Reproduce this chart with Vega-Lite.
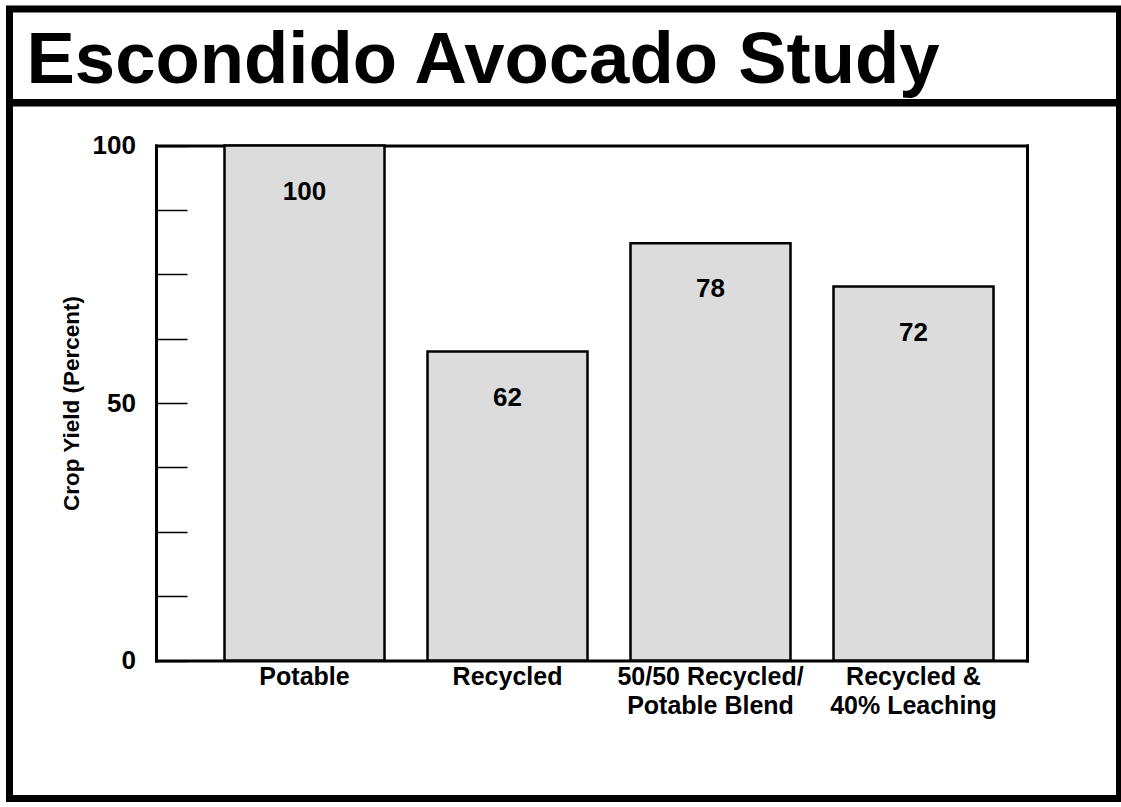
{
  "$schema": "https://vega.github.io/schema/vega-lite/v6.json",
  "padding": {"left": 5.5, "top": 5, "right": 0, "bottom": 0},
  "background": "white",
  "spacing": 0,
  "bounds": "flush",
  "config": {
    "font": "Liberation Sans",
    "view": {"stroke": "black", "strokeWidth": 7},
    "axis": {"grid": false}
  },
  "vconcat": [
    {
      "width": 1110,
      "height": 93.5,
      "data": {"values": [{"title": "Escondido Avocado Study"}]},
      "mark": {"type": "text", "align": "left", "baseline": "middle", "dx": 17, "dy": 5, "font": "Liberation Sans", "fontSize": 72.5, "fontWeight": "bold", "color": "black"},
      "encoding": {
        "text": {"field": "title"},
        "x": {"field": "title", "type": "nominal", "scale": {"type": "point", "padding": 0, "align": 0}, "axis": null}
      }
    },
    {
      "width": 1110,
      "height": 695.5,
      "data": {
        "values": [
          {"treatment": "Potable", "yield": 100, "label": "100"},
          {"treatment": "Recycled", "yield": 60, "label": "62"},
          {"treatment": "50/50 Recycled/\nPotable Blend", "yield": 81, "label": "78"},
          {"treatment": "Recycled &\n40% Leaching", "yield": 72.6, "label": "72"}
        ]
      },
      "layer": [
        {
          "mark": {"type": "bar", "fill": "#dcdcdc", "stroke": "black", "strokeWidth": 2.5},
          "encoding": {
            "x": {
              "field": "treatment",
              "type": "nominal",
              "sort": null,
              "scale": {"type": "band", "range": [146.5, 1017.5], "paddingInner": 0.2118, "paddingOuter": 0.2512, "align": 0.6716},
              "axis": {
                "orient": "bottom",
                "offset": -138,
                "ticks": false,
                "domainColor": "black",
                "domainWidth": 3,
                "domainCap": "square",
                "labelAngle": 0,
                "labelFont": "Liberation Sans",
                "labelFontSize": 25,
                "labelFontWeight": "bold",
                "labelColor": "black",
                "labelPadding": 4,
                "labelLineHeight": 29,
                "labelLimit": 400,
                "labelExpr": "split(datum.label, '\\n')",
                "title": null
              }
            },
            "y": {
              "field": "yield",
              "type": "quantitative",
              "scale": {"domain": [0, 100], "range": [557.5, 42.5], "nice": false},
              "axis": {
                "orient": "left",
                "offset": -146.5,
                "values": [0, 12.5, 25, 37.5, 50, 62.5, 75, 87.5, 100],
                "labelExpr": "datum.value % 50 === 0 ? datum.label : ''",
                "tickSize": -31,
                "tickWidth": 1.5,
                "tickColor": "black",
                "labelPadding": 51.5,
                "labelFont": "Liberation Sans",
                "labelFontSize": 26,
                "labelFontWeight": "bold",
                "labelColor": "black",
                "labelBaseline": "middle",
                "labelFlush": false,
                "labelOverlap": false,
                "domainColor": "black",
                "domainWidth": 3,
                "domainCap": "square",
                "title": "Crop Yield (Percent)",
                "titleFont": "Liberation Sans",
                "titleFontSize": 22.5,
                "titleFontWeight": "bold",
                "titleColor": "black",
                "titlePadding": 8.5
              }
            }
          }
        },
        {
          "mark": {"type": "text", "font": "Liberation Sans", "fontSize": 26, "fontWeight": "bold", "color": "black", "baseline": "middle", "dy": 46},
          "encoding": {
            "text": {"field": "label"},
            "x": {
              "field": "treatment",
              "type": "nominal",
              "sort": null,
              "scale": {"type": "band", "range": [146.5, 1017.5], "paddingInner": 0.2118, "paddingOuter": 0.2512, "align": 0.6716},
              "axis": {"orient": "top", "offset": -42.5, "labels": false, "ticks": false, "domainColor": "black", "domainWidth": 3, "domainCap": "square", "title": null}
            },
            "y": {
              "field": "yield",
              "type": "quantitative",
              "scale": {"domain": [0, 100], "range": [557.5, 42.5], "nice": false},
              "axis": {"orient": "right", "offset": -92.5, "labels": false, "ticks": false, "domainColor": "black", "domainWidth": 3, "domainCap": "square", "title": null}
            }
          }
        }
      ],
      "resolve": {"axis": {"x": "independent", "y": "independent"}}
    }
  ]
}
